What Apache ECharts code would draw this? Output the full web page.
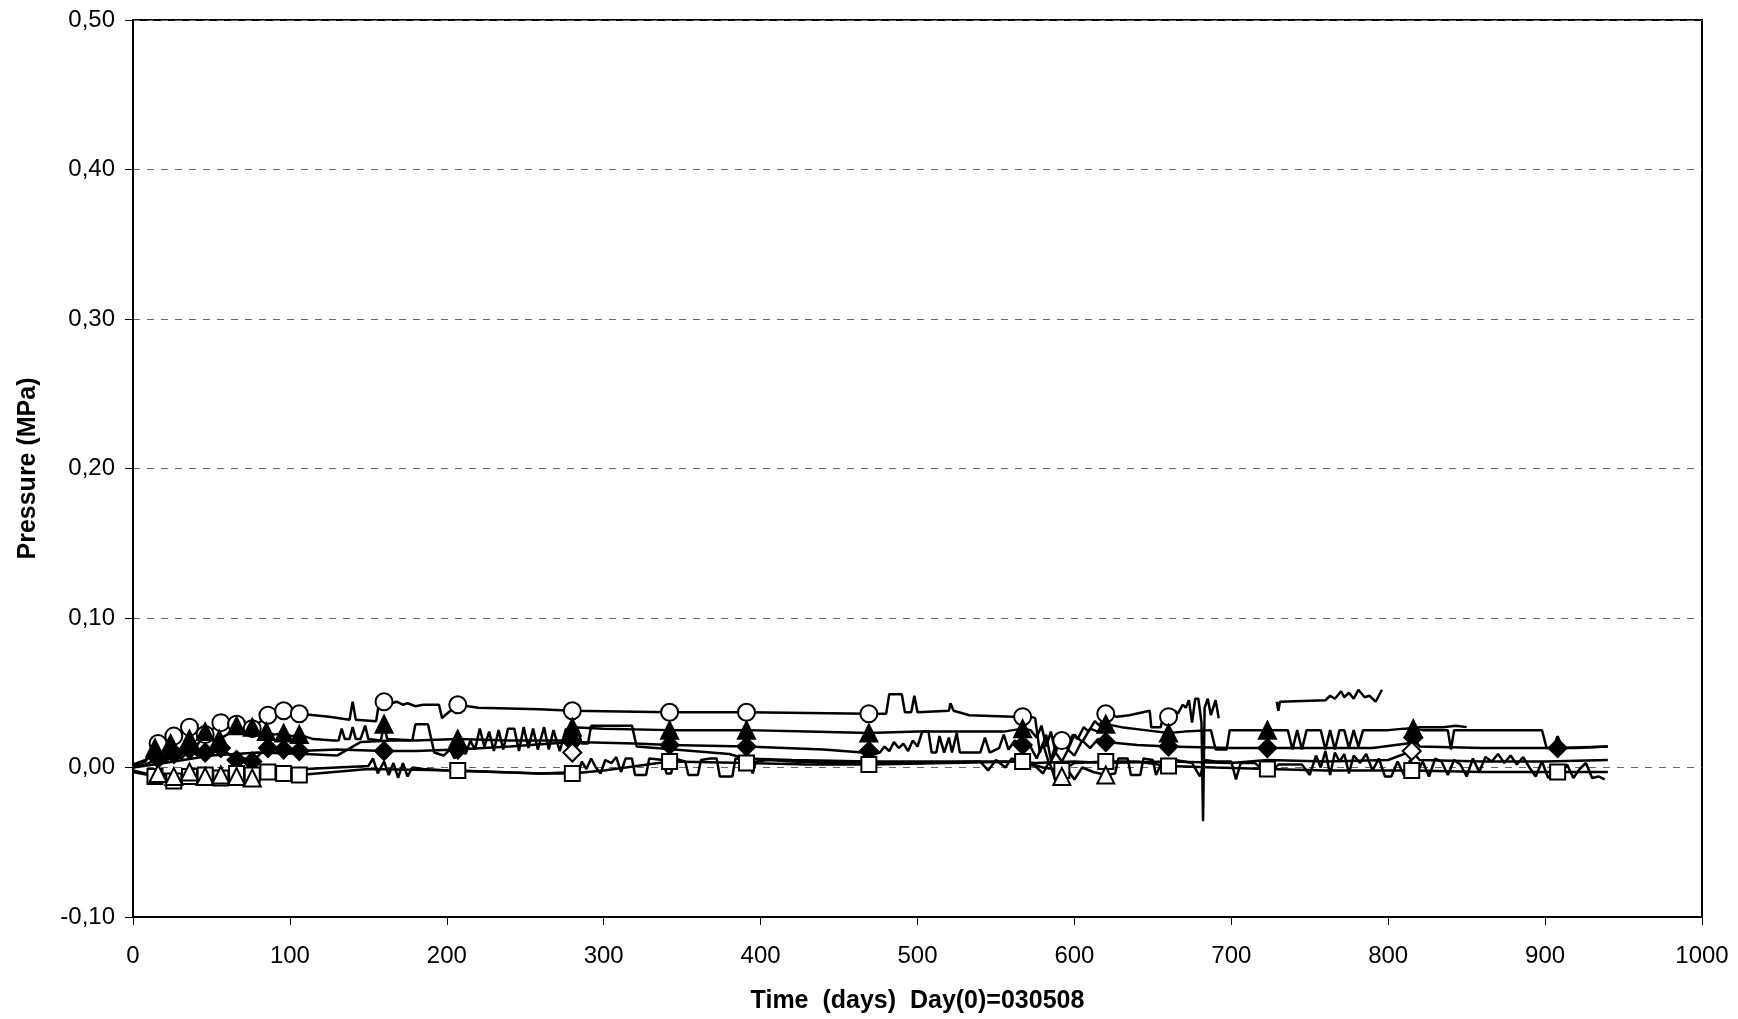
<!DOCTYPE html>
<html>
<head>
<meta charset="utf-8">
<script src="https://cdn.jsdelivr.net/npm/echarts@6/dist/echarts.min.js"></script>
<style>
html,body{margin:0;padding:0;background:#fff;}
#chart{width:1738px;height:1019px;}
</style>
</head>
<body>
<div id="chart"></div>
<script>
// ---- Axis ticks ----
const xTicks = [0,100,200,300,400,500,600,700,800,900,1000];
const yTicks = [-0.10,0.00,0.10,0.20,0.30,0.40,0.50];

// ---- Series 1: open circle ----
const circleLine = [[0,0.002],[8,0.005],[16,0.016],[26,0.021],[36,0.027],[46,0.022],[56,0.030],[66,0.029],[76,0.026],[86,0.035],[96,0.038],[106,0.036],[125,0.034],[138,0.032],[140,0.044],[142,0.032],[155,0.031],[157,0.045],[160,0.044],[165,0.043],[168,0.044],[172,0.042],[175,0.043],[180,0.041],[185,0.042],[195,0.042],[197,0.033],[200,0.036],[207,0.042],[220,0.040],[259,0.039],[280,0.038],[342,0.037],[391,0.037],[469,0.036],[480,0.036],[482,0.049],[490,0.049],[492,0.037],[496,0.037],[498,0.048],[500,0.037],[520,0.038],[521,0.043],[523,0.038],[533,0.035],[561,0.034],[567,0.034],[572,0.034],[575,0.033],[578,0.010],[582,0.022],[585,0.005],[588,0.015],[592,0.018],[596,0.014],[599,0.022],[602,0.019],[606,0.027],[609,0.024],[613,0.031],[616,0.028],[620,0.036],[627,0.034],[635,0.035],[648,0.038],[649,0.027],[655,0.027],[657,0.036],[660,0.034],[664,0.038],[666,0.036],[669,0.042],[671,0.040],[673,0.045],[675,0.030],[677,0.046],[679,0.046],[681,0.030],[682,-0.036],[683,0.040],[685,0.046],[687,0.035],[690,0.045],[692,0.033]];
const circleLate = [[729,0.044],[730,0.038],[731,0.044],[760,0.045],[763,0.048],[766,0.046],[770,0.051],[772,0.047],[775,0.050],[778,0.046],[781,0.052],[785,0.047],[788,0.048],[792,0.044],[796,0.052]];
const circleMarks = [[16,0.016],[26,0.021],[36,0.027],[46,0.022],[56,0.030],[66,0.029],[76,0.026],[86,0.035],[96,0.038],[106,0.036],[160,0.044],[207,0.042],[280,0.038],[342,0.037],[391,0.037],[469,0.036],[567,0.034],[592,0.018],[620,0.036],[660,0.034]];

// ---- Series 2: filled triangle ----
const triLine = [[0,0.001],[8,0.004],[14,0.013],[20,0.010],[24,0.016],[30,0.012],[36,0.019],[41,0.015],[46,0.024],[51,0.018],[55,0.019],[60,0.022],[66,0.028],[71,0.025],[76,0.027],[81,0.023],[85,0.024],[90,0.022],[96,0.023],[101,0.021],[106,0.022],[115,0.019],[128,0.018],[131,0.018],[133,0.026],[135,0.019],[138,0.019],[140,0.027],[142,0.019],[145,0.019],[148,0.028],[150,0.019],[158,0.018],[160,0.029],[162,0.019],[180,0.018],[207,0.019],[240,0.018],[275,0.018],[278,0.027],[280,0.027],[300,0.026],[342,0.025],[391,0.025],[430,0.024],[469,0.023],[500,0.024],[555,0.024],[567,0.026],[572,0.025],[576,0.020],[579,0.028],[582,0.014],[585,0.024],[588,0.010],[592,0.020],[596,0.012],[600,0.022],[605,0.017],[610,0.026],[615,0.024],[620,0.029],[630,0.027],[645,0.025],[660,0.023],[670,0.024],[687,0.025],[690,0.012],[697,0.012],[699,0.025],[723,0.025],[736,0.025],[739,0.012],[742,0.025],[745,0.012],[748,0.025],[757,0.025],[760,0.012],[763,0.025],[766,0.012],[769,0.025],[772,0.025],[775,0.013],[778,0.025],[781,0.014],[784,0.025],[800,0.025],[810,0.026],[816,0.026],[822,0.025],[838,0.025],[840,0.012],[842,0.025],[898,0.025],[901,0.013],[905,0.013],[908,0.021],[911,0.013],[920,0.013],[940,0.014]];
const triExtra = [[812,0.026],[820,0.027],[835,0.027],[843,0.028],[850,0.027]];
const triMarks = [[14,0.013],[24,0.016],[36,0.019],[46,0.024],[55,0.019],[66,0.028],[76,0.027],[85,0.024],[96,0.023],[106,0.022],[160,0.029],[207,0.019],[280,0.027],[342,0.025],[391,0.025],[469,0.023],[567,0.026],[620,0.029],[660,0.023],[723,0.025],[816,0.026]];

// ---- Series 3: filled diamond ----
const diaLine = [[0,0.000],[8,0.002],[16,0.006],[21,0.004],[26,0.009],[31,0.006],[36,0.012],[41,0.008],[46,0.010],[51,0.011],[56,0.013],[61,0.009],[66,0.005],[71,0.006],[76,0.004],[81,0.009],[86,0.013],[91,0.012],[96,0.012],[101,0.011],[106,0.011],[130,0.012],[160,0.011],[180,0.011],[207,0.012],[240,0.014],[280,0.017],[320,0.016],[342,0.015],[391,0.014],[440,0.012],[465,0.010],[469,0.011],[473,0.009],[476,0.010],[479,0.014],[482,0.011],[485,0.017],[488,0.013],[491,0.016],[494,0.011],[497,0.018],[500,0.014],[503,0.024],[507,0.024],[509,0.010],[512,0.010],[514,0.021],[517,0.010],[520,0.020],[522,0.010],[525,0.023],[527,0.010],[540,0.010],[543,0.020],[546,0.010],[552,0.013],[555,0.022],[558,0.012],[562,0.018],[567,0.015],[572,0.014],[576,0.006],[580,0.016],[584,0.002],[588,0.010],[592,0.004],[596,0.012],[600,0.008],[605,0.018],[610,0.013],[615,0.019],[620,0.017],[640,0.015],[660,0.014],[700,0.013],[723,0.013],[760,0.013],[790,0.013],[812,0.016],[816,0.020],[820,0.014],[860,0.013],[908,0.013],[940,0.014]];
const diaMarks = [[16,0.006],[26,0.009],[36,0.012],[46,0.010],[56,0.013],[66,0.005],[76,0.004],[86,0.013],[96,0.012],[106,0.011],[160,0.011],[207,0.012],[280,0.017],[342,0.015],[391,0.014],[469,0.011],[567,0.015],[620,0.017],[660,0.014],[723,0.013],[816,0.020],[908,0.013]];

// ---- Series 4: open diamond ----
const odiaLine = [[0,0.000],[20,0.003],[50,0.008],[80,0.010],[110,0.009],[130,0.008],[145,0.017],[165,0.018],[178,0.018],[180,0.029],[188,0.029],[192,0.010],[198,0.008],[202,0.012],[205,0.006],[208,0.014],[212,0.009],[215,0.018],[218,0.012],[221,0.026],[224,0.014],[227,0.024],[230,0.011],[233,0.025],[236,0.012],[239,0.026],[243,0.026],[246,0.011],[249,0.027],[252,0.013],[255,0.026],[258,0.012],[262,0.027],[265,0.012],[268,0.025],[272,0.011],[276,0.026],[280,0.010],[283,0.027],[286,0.016],[290,0.016],[292,0.028],[318,0.028],[321,0.014],[345,0.012],[380,0.009],[390,0.006],[420,0.005],[470,0.004],[520,0.004],[560,0.004],[575,0.003],[600,0.004],[620,0.003],[660,0.004],[700,0.003],[723,0.005],[760,0.004],[800,0.005],[815,0.011],[820,0.005],[860,0.004],[900,0.004],[940,0.005]];
const odiaMarks = [[280,0.010],[815,0.011]];

// ---- Series 5: open square ----
const sqLine = [[0,-0.002],[8,-0.004],[14,-0.006],[20,-0.004],[26,-0.009],[31,-0.005],[36,-0.006],[46,-0.005],[56,-0.007],[66,-0.004],[76,-0.005],[86,-0.003],[96,-0.004],[106,-0.005],[150,-0.001],[207,-0.002],[259,-0.004],[280,-0.004],[300,-0.002],[342,0.004],[391,0.003],[430,0.002],[469,0.002],[520,0.003],[567,0.004],[580,0.000],[592,-0.002],[600,0.003],[620,0.004],[640,0.004],[660,0.001],[690,0.000],[723,-0.001],[760,-0.002],[815,-0.002],[860,-0.003],[908,-0.003],[940,-0.003]];
const sqMarks = [[14,-0.006],[26,-0.009],[36,-0.006],[46,-0.005],[56,-0.007],[66,-0.004],[76,-0.005],[86,-0.003],[96,-0.004],[106,-0.005],[207,-0.002],[280,-0.004],[342,0.004],[391,0.003],[469,0.002],[567,0.004],[592,-0.002],[620,0.004],[660,0.001],[723,-0.001],[815,-0.002],[908,-0.003]];

// ---- Series 6: open triangle ----
const otriLine = [[0,-0.003],[10,-0.005],[16,-0.004],[26,-0.006],[36,-0.003],[46,-0.006],[56,-0.005],[66,-0.006],[76,-0.007],[90,-0.003],[110,-0.001],[130,0.000],[150,0.001],[153,0.006],[156,-0.004],[160,0.004],[163,-0.005],[166,0.003],[169,-0.007],[172,0.003],[175,-0.006],[178,0.000],[185,-0.001],[200,-0.002],[230,-0.003],[260,-0.004],[284,-0.003],[286,0.004],[289,-0.001],[292,0.006],[295,0.000],[298,-0.004],[301,0.005],[305,0.003],[308,0.007],[311,-0.003],[314,0.006],[318,0.006],[320,-0.005],[327,-0.005],[329,0.006],[338,0.005],[340,-0.004],[343,-0.004],[345,0.006],[352,0.004],[354,-0.005],[360,-0.005],[362,0.005],[368,0.006],[372,0.006],[374,-0.006],[382,-0.006],[384,0.006],[392,0.005],[395,-0.004],[397,0.004],[405,0.005],[420,0.004],[450,0.003],[500,0.003],[540,0.004],[545,-0.002],[550,0.005],[556,0.000],[560,0.006],[567,0.003],[575,0.001],[580,-0.004],[584,0.004],[588,-0.009],[592,-0.006],[596,-0.002],[600,-0.008],[605,0.000],[612,-0.003],[620,-0.005],[626,-0.004],[628,0.006],[634,0.006],[636,-0.005],[642,-0.005],[644,0.006],[650,0.005],[652,-0.005],[656,0.004],[660,-0.004],[664,0.005],[670,0.004],[675,0.003],[680,-0.006],[683,0.005],[690,0.004],[700,0.004],[703,-0.008],[706,0.003],[715,0.003],[724,-0.005],[730,0.002],[745,0.002],[750,-0.005],[754,0.008],[757,0.000],[760,0.011],[763,-0.005],[766,0.010],[769,0.004],[772,0.009],[775,-0.004],[778,0.008],[782,0.003],[786,0.009],[790,-0.002],[794,0.006],[798,-0.006],[802,-0.006],[806,0.004],[810,-0.005],[814,0.005],[818,-0.004],[822,0.004],[826,-0.006],[830,0.006],[834,0.004],[838,-0.005],[842,0.005],[846,0.002],[850,-0.006],[854,0.006],[858,-0.003],[862,0.007],[866,0.004],[870,0.009],[874,0.003],[878,0.008],[882,0.002],[886,0.007],[890,0.000],[894,-0.006],[898,0.004],[902,-0.007],[906,-0.002],[910,-0.005],[914,0.002],[918,-0.007],[922,-0.001],[926,0.003],[930,-0.007],[934,-0.006],[938,-0.008]];
const otriMarks = [[16,-0.004],[26,-0.006],[36,-0.003],[46,-0.006],[56,-0.005],[66,-0.006],[76,-0.007],[592,-0.006],[620,-0.005]];

const FONT = '"Liberation Sans", Arial, sans-serif';

function lineS(data){
  return {type:'line', data:data, showSymbol:false, symbol:'none', animation:false,
    lineStyle:{color:'#000', width:2.5}, z:2};
}
function markS(data, symbol, size, filled){
  return {type:'scatter', data:data, symbol:symbol, symbolSize:size, animation:false,
    itemStyle:{color: filled ? '#000' : '#fff', borderColor:'#000', borderWidth:2, opacity:1}, z:3};
}

const chart = echarts.init(document.getElementById('chart'), null, {renderer:'canvas'});
chart.setOption({
  backgroundColor:'#fff',
  animation:false,
  grid:{left:133, right:36, top:20, bottom:100, show:true, borderColor:'#000', borderWidth:2, backgroundColor:'transparent'},
  xAxis:{
    type:'value', min:xTicks[0], max:xTicks[xTicks.length-1], interval:100,
    name:'Time  (days)  Day(0)=030508', nameLocation:'middle', nameGap:72,
    nameTextStyle:{fontFamily:FONT, fontWeight:'bold', fontSize:25, color:'#000'},
    axisLine:{show:true, onZero:false, lineStyle:{color:'#000', width:2}},
    axisTick:{show:true, length:8, lineStyle:{color:'#000', width:1}},
    axisLabel:{fontFamily:FONT, fontSize:24, color:'#000', margin:27,
      formatter:function(v){ return String(Math.round(v)); }},
    splitLine:{show:false}
  },
  yAxis:{
    type:'value', min:yTicks[0], max:yTicks[yTicks.length-1], interval:0.1,
    name:'Pressure (MPa)', nameLocation:'middle', nameGap:92, nameRotate:90,
    nameTextStyle:{fontFamily:FONT, fontWeight:'bold', fontSize:25, color:'#000'},
    axisLine:{show:true, onZero:false, lineStyle:{color:'#000', width:2}},
    axisTick:{show:true, length:8, lineStyle:{color:'#000', width:1}},
    axisLabel:{fontFamily:FONT, fontSize:24, color:'#000', margin:18,
      formatter:function(v){ let t=(Math.abs(v)<1e-9?0:v).toFixed(2); return t.replace('.',','); }},
    splitLine:{show:true, lineStyle:{color:'#666', width:1, type:[7,7]}}
  },
  series:[
    lineS(circleLine), lineS(circleLate), markS(circleMarks,'circle',17,false),
    lineS(triLine), lineS(triExtra), markS(triMarks,'triangle',17,true),
    lineS(diaLine), markS(diaMarks,'diamond',18,true),
    lineS(odiaLine), markS(odiaMarks,'diamond',18,false),
    lineS(sqLine), markS(sqMarks,'rect',15,false),
    lineS(otriLine), markS(otriMarks,'triangle',17,false)
  ]
});
</script>
</body>
</html>
